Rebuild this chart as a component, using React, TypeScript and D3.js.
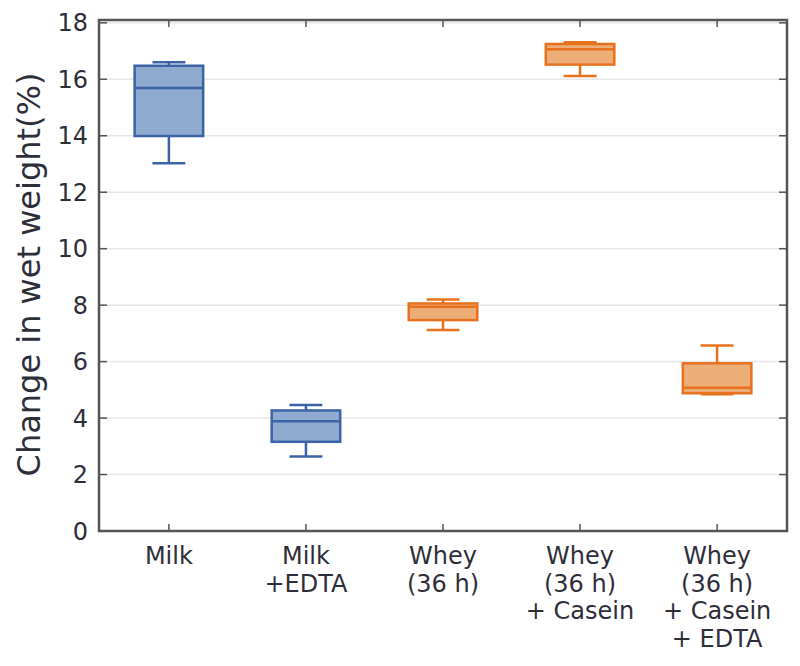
import React from "react";
import * as d3 from "d3";

const categories: string[][] = [
  ["Milk"],
  ["Milk", "+EDTA"],
  ["Whey", "(36 h)"],
  ["Whey", "(36 h)", "+ Casein"],
  ["Whey", "(36 h)", "+ Casein", "+ EDTA"],
];
const whiskerLow = [13.03, 2.64, 7.12, 16.12, 4.84];
const q1 = [13.99, 3.16, 7.47, 16.52, 4.88];
const median = [15.69, 3.89, 7.94, 17.06, 5.07];
const q3 = [16.48, 4.27, 8.06, 17.25, 5.94];
const whiskerHigh = [16.6, 4.46, 8.2, 17.31, 6.57];
const groups = ["milk", "milk", "whey", "whey", "whey"];
const yTicks = [0, 2, 4, 6, 8, 10, 12, 14, 16, 18];
const yLabel = "Change in wet weight(%)";

const strokeColors: Record<string, string> = { milk: "#3b63a6", whey: "#e8711d" };
const fillColors: Record<string, string> = { milk: "#8eaace", whey: "#ecad77" };

export default function App() {
  const W = 800, H = 666;
  const left = 99, right = 787, top = 20, bottom = 531;
  const y = d3.scaleLinear().domain([0, 18.1]).range([bottom, top]);
  const x = d3.scaleLinear().domain([-0.51, categories.length - 1 + 0.51]).range([left, right]);
  const step = x(1) - x(0);
  const boxW = step * 0.5;
  const capW = step * 0.24;
  const textColor = "#2e2e3a";
  const font = "DejaVu Sans, sans-serif";
  const frame = "#555";

  return (
    <svg width={W} height={H} style={{ position: "absolute", left: 0, top: 0 }} fontFamily={font}>
      <rect x={0} y={0} width={W} height={H} fill="#fff" />
      {/* grid */}
      {yTicks.map((t) => (
        <line key={"g" + t} x1={left} x2={right} y1={y(t)} y2={y(t)} stroke="#e6e6ec" strokeWidth={1.5} />
      ))}
      {/* boxes */}
      {categories.map((c, i) => {
        const cx = x(i);
        const sc = strokeColors[groups[i]];
        const fc = fillColors[groups[i]];
        return (
          <g key={"b" + i}>
            <line x1={cx} x2={cx} y1={y(whiskerHigh[i])} y2={y(q3[i])} stroke={sc} strokeWidth={2.5} />
            <line x1={cx} x2={cx} y1={y(q1[i])} y2={y(whiskerLow[i])} stroke={sc} strokeWidth={2.5} />
            <line x1={cx - capW / 2} x2={cx + capW / 2} y1={y(whiskerHigh[i])} y2={y(whiskerHigh[i])} stroke={sc} strokeWidth={2.5} />
            <line x1={cx - capW / 2} x2={cx + capW / 2} y1={y(whiskerLow[i])} y2={y(whiskerLow[i])} stroke={sc} strokeWidth={2.5} />
            <rect x={cx - boxW / 2} y={y(q3[i])} width={boxW} height={y(q1[i]) - y(q3[i])} fill={fc} stroke={sc} strokeWidth={2.5} />
            <line x1={cx - boxW / 2} x2={cx + boxW / 2} y1={y(median[i])} y2={y(median[i])} stroke={sc} strokeWidth={2.5} />
          </g>
        );
      })}
      {/* ticks */}
      {yTicks.map((t) => (
        <g key={"t" + t}>
          <line x1={left} x2={left + 8} y1={y(t)} y2={y(t)} stroke={frame} strokeWidth={1.5} />
          <line x1={right - 8} x2={right} y1={y(t)} y2={y(t)} stroke={frame} strokeWidth={1.5} />
          <text x={88} y={y(t)} dy="0.36em" textAnchor="end" fontSize={24} fill={textColor}>{t}</text>
        </g>
      ))}
      {categories.map((c, i) => (
        <g key={"x" + i}>
          <line x1={x(i)} x2={x(i)} y1={bottom} y2={bottom - 7} stroke={frame} strokeWidth={1.5} />
          <line x1={x(i)} x2={x(i)} y1={top} y2={top + 7} stroke={frame} strokeWidth={1.5} />
          <text x={x(i)} y={564} textAnchor="middle" fontSize={24} fill={textColor}>
            {c.map((l, j) => (
              <tspan key={j} x={x(i)} dy={j === 0 ? 0 : 27.5}>{l}</tspan>
            ))}
          </text>
        </g>
      ))}
      {/* frame */}
      <rect x={left} y={top} width={right - left} height={bottom - top} fill="none" stroke={frame} strokeWidth={2.5} />
      <text x={40} y={274.5} transform="rotate(-90, 40, 274.5)" textAnchor="middle" fontSize={32} fill={textColor}>{yLabel}</text>
    </svg>
  );
}
